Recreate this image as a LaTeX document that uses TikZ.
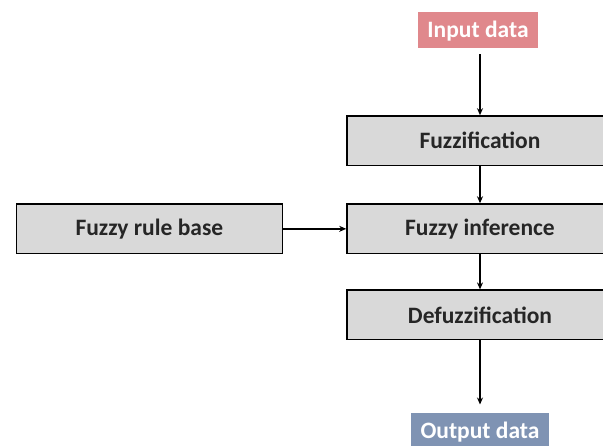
\documentclass[tikz,border=0pt]{standalone}
\usepackage{fontspec}
\setmainfont{Carlito}
\usepackage{xcolor}
\usepackage{tikz}
\usetikzlibrary{positioning,arrows.meta}
\definecolor{inpink}{HTML}{E0888C}
\definecolor{outblue}{HTML}{7F93B3}
\definecolor{boxgray}{HTML}{D9D9D9}

\begin{document}
\begin{tikzpicture}[
			x=1pt, y=1pt,
			stage/.style={rectangle, draw=black, fill=boxgray, line width=1.6pt, minimum width=266pt, minimum height=49.5pt, inner sep=0pt, font=\fontsize{23.5}{28}\selectfont\bfseries, text=black!85},
			data/.style={rectangle, draw=none, minimum height=36pt, inner sep=0pt, text height=15pt, text depth=0pt, font=\fontsize{23.5}{28}\selectfont\bfseries, text=white},
			flow/.style={line width=1.4pt, -{Stealth[length=7pt,width=6pt]}},
		]
			\useasboundingbox (0,0) rectangle (603,-446);
			\clip (0,0) rectangle (603,-446);

			\node[data, fill=inpink, minimum width=120pt] (input) at (478,-30) {Input data};
			\node[stage] (fuzz) [below=67pt of input.south, anchor=north, xshift=2pt] {Fuzzification};
			\node[stage] (infer) [below=37pt of fuzz] {Fuzzy inference};
			\node[stage] (rules) [left=63pt of infer] {Fuzzy rule base};
			\node[stage] (defuzz) [below=35pt of infer] {Defuzzification};
			\node[data, fill=outblue, minimum width=138pt] (output) [below=72pt of defuzz] {Output data};

			\draw[flow] ([yshift=-6pt]input.south -| fuzz.north) -- (fuzz);
			\draw[flow] (fuzz) -- (infer);
			\draw[flow] (rules) -- (infer);
			\draw[flow] (infer) -- (defuzz);
			\draw[flow] (defuzz) -- ([yshift=8pt]output.north);

		\end{tikzpicture}
\end{document}
